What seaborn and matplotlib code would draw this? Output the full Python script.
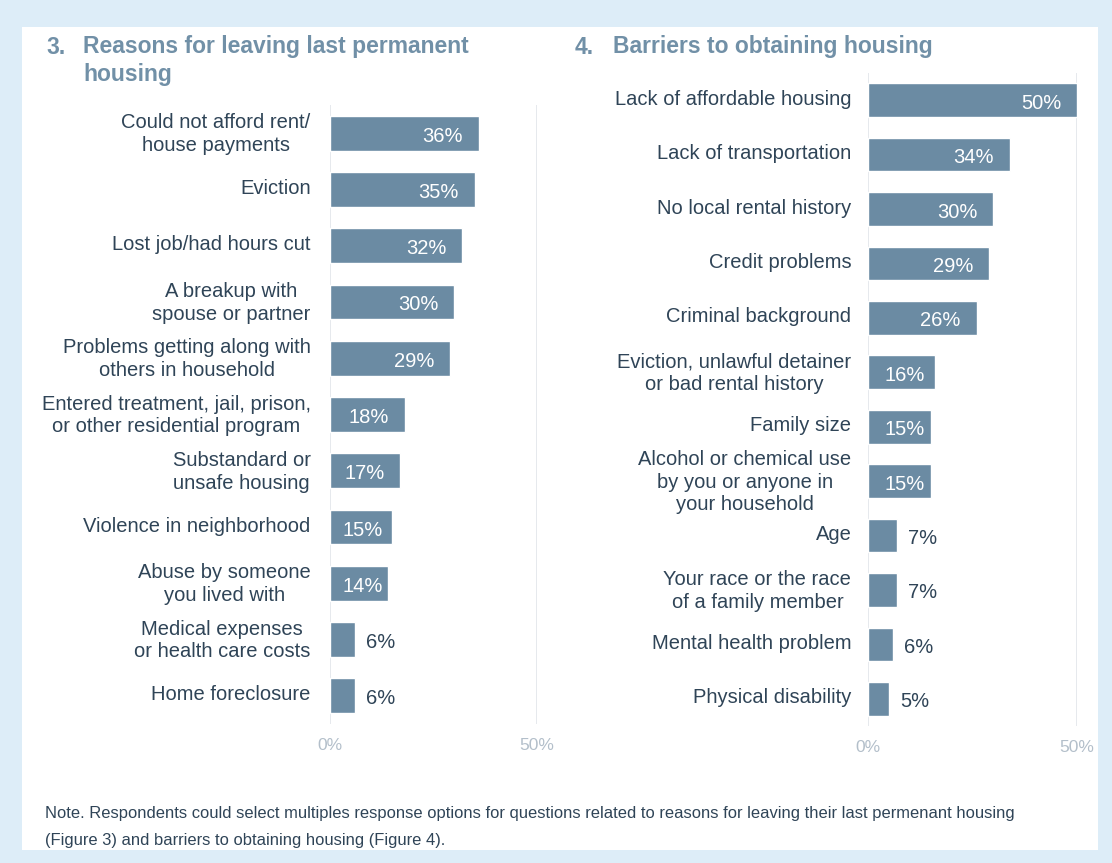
import matplotlib
matplotlib.use("Agg")
import matplotlib.pyplot as plt
import matplotlib.patches as mpatches
import matplotlib.transforms as mtransforms
from matplotlib import font_manager
import seaborn as sns
import pandas as pd

# Figure 3 data
reasons = [
    "Could not afford rent/\nhouse payments",
    "Eviction",
    "Lost job/had hours cut",
    "A breakup with\nspouse or partner",
    "Problems getting along with\nothers in household",
    "Entered treatment, jail, prison,\nor other residential program",
    "Substandard or\nunsafe housing",
    "Violence in neighborhood",
    "Abuse by someone\nyou lived with",
    "Medical expenses\nor health care costs",
    "Home foreclosure",
]
reasons_pct = [36, 35, 32, 30, 29, 18, 17, 15, 14, 6, 6]

# Figure 4 data
barriers = [
    "Lack of affordable housing",
    "Lack of transportation",
    "No local rental history",
    "Credit problems",
    "Criminal background",
    "Eviction, unlawful detainer\nor bad rental history",
    "Family size",
    "Alcohol or chemical use\nby you or anyone in\nyour household",
    "Age",
    "Your race or the race\nof a family member",
    "Mental health problem",
    "Physical disability",
]
barriers_pct = [50, 34, 30, 29, 26, 16, 15, 15, 7, 7, 6, 5]

x_ticks = [0, 50]
x_tick_labels = ["0%", "50%"]

BAR = "#6b8ba3"
LABEL = "#2f4457"
TITLE = "#7190a7"
TICK = "#b3bfca"
GRID = "#e1e5ea"
OUTER = "#ddedf8"

sns.set_theme(style="white")
names = {f.name for f in font_manager.fontManager.ttflist}
main_font = "Liberation Sans" if "Liberation Sans" in names else "DejaVu Sans"
plt.rcParams["font.family"] = [main_font, "DejaVu Sans"]

W, H = 1112, 863
fig = plt.figure(figsize=(W / 100, H / 100), dpi=100)
fig.patch.set_facecolor(OUTER)
# white card behind both panels
fig.patches.append(mpatches.Rectangle((22 / W, 1 - 850 / H), (1098 - 22) / W, (850 - 27) / H,
                                      transform=fig.transFigure, facecolor="white",
                                      edgecolor="none", zorder=-5))


def panel(rect, cats, vals, label_pad, start_pad):
    ax = fig.add_axes(rect)
    ax.set_zorder(2)
    ax.set_facecolor("none")
    df = pd.DataFrame({"cat": cats, "val": vals})
    sns.barplot(data=df, x="val", y="cat", orient="h", color=BAR, saturation=1,
                width=0.62, ax=ax, zorder=2)
    ax.set_xlim(0, 50)
    ax.set_ylim(len(cats) - 0.5, -0.5)
    ax.set_xlabel("")
    ax.set_ylabel("")
    for s in ax.spines.values():
        s.set_visible(False)
    ax.set_xticks(x_ticks)
    ax.set_xticklabels(x_tick_labels, color=TICK, fontsize=12.5)
    ax.tick_params(axis="x", length=0, pad=10)
    ax.tick_params(axis="y", length=0, pad=label_pad)
    for x in x_ticks:
        ax.axvline(x, color=GRID, lw=1.2, zorder=1)
    lift = mtransforms.ScaledTranslation(0, 3 / 100, fig.dpi_scale_trans)
    for t in ax.get_yticklabels():
        t.set_color(LABEL)
        t.set_fontsize(14.5)
        t.set_multialignment("center")
        t.set_linespacing(1.25)
        t.set_transform(t.get_transform() + lift)

    # value labels: inside the bar end, held off the axis for short bars,
    # and outside the bar for the smallest values
    fig.canvas.draw()
    px_per_unit = ax.bbox.width / 50
    for i, v in enumerate(vals):
        bar_px = v * px_per_unit
        if bar_px < 50:
            ax.annotate(f"{v}%", (v, i), xytext=(11, -3), textcoords="offset pixels",
                        ha="left", va="center", color=LABEL, fontsize=14.5, zorder=3)
        elif bar_px - 16 < start_pad + 40:
            ax.annotate(f"{v}%", (0, i), xytext=(start_pad, -3), textcoords="offset pixels",
                        ha="left", va="center", color="white", fontsize=14.5, zorder=3)
        else:
            ax.annotate(f"{v}%", (v, i), xytext=(-16, -3), textcoords="offset pixels",
                        ha="right", va="center", color="white", fontsize=14.5, zorder=3)
    return ax


panel([330 / W, 1 - 724 / H, (537 - 330) / W, (724 - 105) / H], reasons, reasons_pct, 14, 13)
panel([868 / W, 1 - 726 / H, (1077 - 868) / W, (726 - 73) / H], barriers, barriers_pct, 12, 16)

tkw = dict(color=TITLE, fontsize=16.5, fontweight="bold", va="center", ha="left")
fig.text(46 / W, 1 - 47 / H, "3.", **tkw)
fig.text(83 / W, 1 - 47 / H, "Reasons for leaving last permanent", **tkw)
fig.text(83 / W, 1 - 75 / H, "housing", **tkw)
fig.text(575 / W, 1 - 47 / H, "4.", **tkw)
fig.text(613 / W, 1 - 47 / H, "Barriers to obtaining housing", **tkw)

nkw = dict(color=LABEL, fontsize=11.9, va="center", ha="left")
fig.text(45 / W, 1 - 813 / H,
         "Note. Respondents could select multiples response options for questions related to "
         "reasons for leaving their last permenant housing", **nkw)
fig.text(45 / W, 1 - 840 / H,
         "(Figure 3) and barriers to obtaining housing (Figure 4).", **nkw)

fig.savefig("out.png", dpi=100, facecolor=fig.get_facecolor())
